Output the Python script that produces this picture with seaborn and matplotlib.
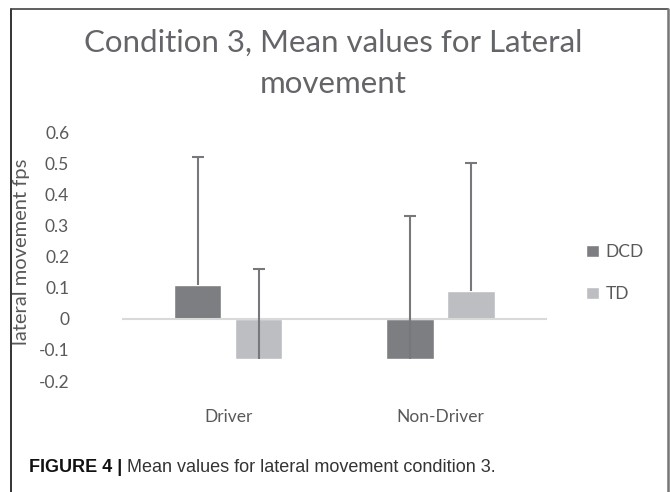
import numpy as np
import pandas as pd
import matplotlib
matplotlib.use('Agg')
import matplotlib.pyplot as plt
import seaborn as sns
from matplotlib.lines import Line2D

# values
conditions = ['Driver', 'Non-Driver']
groups = ['DCD', 'TD']
dcd_mean = [0.11, -0.13]
td_mean = [-0.13, 0.09]
dcd_err = [0.41, 0.46]   # upper error only
td_err = [0.29, 0.41]
y_ticks = [-0.2, -0.1, 0, 0.1, 0.2, 0.3, 0.4, 0.5, 0.6]

sns.set_style('white')
plt.rcParams['font.family'] = ['Lato', 'DejaVu Sans']

df = pd.DataFrame({
    'condition': conditions * 2,
    'group': ['DCD'] * 2 + ['TD'] * 2,
    'mean': dcd_mean + td_mean,
    'err': dcd_err + td_err,
})

fig = plt.figure(figsize=(6.7, 4.92), dpi=100)
ax = fig.add_axes([0.182, 0.2256, 0.634, 0.506])

palette = {'DCD': '#7d7e81', 'TD': '#bdbec1'}
sns.barplot(data=df, x='condition', y='mean', hue='group', palette=palette,
            width=0.573, gap=0.22, errorbar=None, saturation=1, ax=ax,
            zorder=2)

# one-sided error bars, Excel style (cap only on top)
for cont, g in zip(ax.containers, groups):
    sub = df[df['group'] == g]
    for bar, (_, row) in zip(cont, sub.iterrows()):
        xc = bar.get_x() + bar.get_width() / 2
        top = row['mean'] + row['err']
        ax.plot([xc, xc], [row['mean'], top], color='#77787b', lw=1.5,
                solid_capstyle='butt', zorder=3)
        ax.plot([xc], [top], marker='_', ms=8, mew=1.5, color='#77787b',
                zorder=3)

ax.axhline(0, color='#d9d9d9', lw=1.5, zorder=2.5)
ax.set_xlim(-0.5, 1.5)
ax.set_ylim(-0.2, 0.6)
ax.set_yticks(y_ticks)
ax.set_yticklabels(['-0.2', '-0.1', '0', '0.1', '0.2', '0.3', '0.4', '0.5', '0.6'])
sns.despine(ax=ax, left=True, bottom=True)
ax.tick_params(axis='y', length=0, pad=38, labelsize=12.5, labelcolor='#595959')
ax.tick_params(axis='x', length=0, pad=20, labelsize=12.5, labelcolor='#595959')
ax.set_xlabel('')
ax.set_ylabel('lateral movement fps', fontsize=14.5, color='#595959')
ax.yaxis.set_label_coords(-0.217, 0.52)

handles, labels = ax.get_legend_handles_labels()
ax.legend(handles, labels, loc='center left', bbox_to_anchor=(0.851, 0.445),
          bbox_transform=fig.transFigure, frameon=False, fontsize=12.5,
          handlelength=0.75, handleheight=0.75, handletextpad=0.4,
          labelspacing=1.5, labelcolor='#595959')

fig.text(0.497, 1 - 43 / 492, 'Condition 3, Mean values for Lateral', ha='center',
         va='center', fontsize=22.5, color='#646569')
fig.text(0.497, 1 - 84 / 492, 'movement', ha='center', va='center', fontsize=22.5,
         color='#646569')

# caption
cap_font = ['Liberation Sans', 'DejaVu Sans']
t1 = fig.text(29 / 670, 1 - 468 / 492, 'FIGURE 4 |', ha='left', va='center',
              fontsize=13, fontweight='bold', family=cap_font, color='#111111')
fig.canvas.draw()
bb = t1.get_window_extent()
fig.text((bb.x1 + 5) / 670, 1 - 468 / 492,
         'Mean values for lateral movement condition 3.', ha='left',
         va='center', fontsize=13, family=cap_font, color='#333333')

# frame around the figure panel
fig.add_artist(Line2D([11 / 670, 11 / 670], [0, 1 - 8.5 / 492], color='#111111', lw=1.2))
fig.add_artist(Line2D([11 / 670, 668 / 670], [1 - 8.5 / 492, 1 - 8.5 / 492], color='#444444', lw=1.2))
fig.add_artist(Line2D([668 / 670, 668 / 670], [0, 1 - 8.5 / 492], color='#777777', lw=1.8))

fig.savefig('out.png', dpi=100)
